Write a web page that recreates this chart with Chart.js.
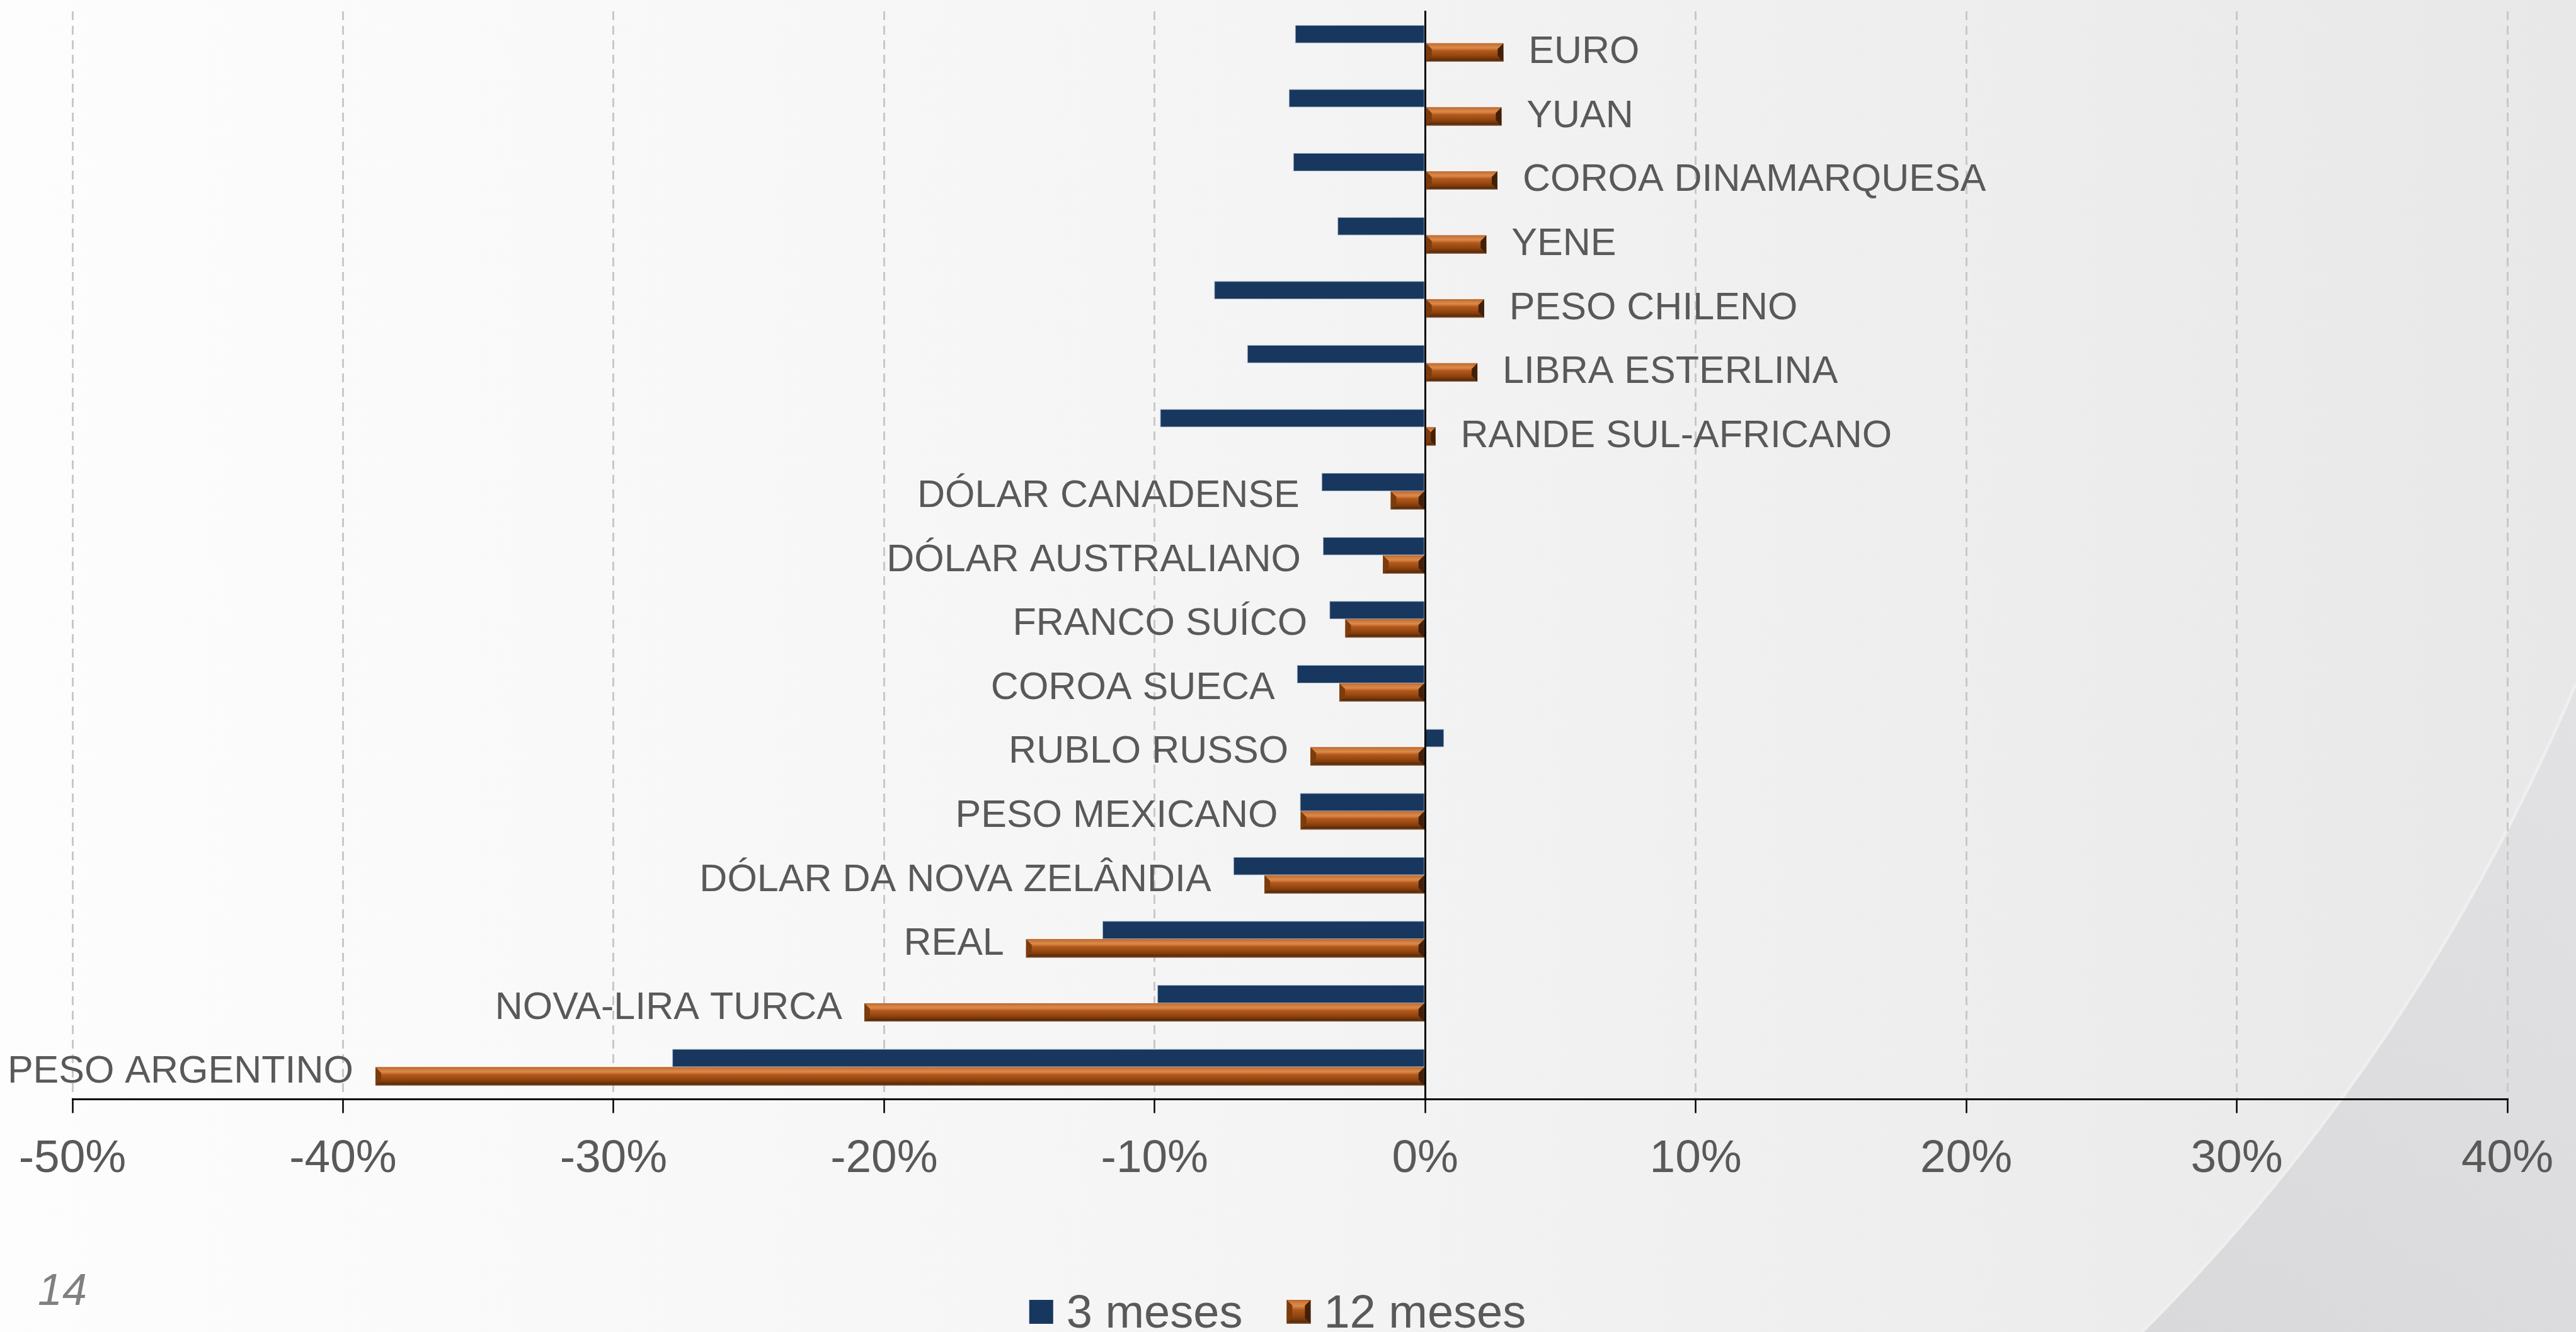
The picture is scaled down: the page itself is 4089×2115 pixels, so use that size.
<!DOCTYPE html>
<html lang="pt">
<head>
<meta charset="utf-8">
<title>Variação cambial frente ao dólar</title>
<script src="https://cdn.jsdelivr.net/npm/chart.js@4.4.1/dist/chart.umd.min.js"></script>
<style>
  html, body { margin: 0; padding: 0; overflow: hidden; background: #f4f4f4; }
  #wrap { position: relative; width: 4089px; height: 2115px; }
</style>
</head>
<body>
<div id="wrap"><canvas id="fxChart"></canvas></div>
<script>
// values (% change)
const currencies = ['EURO', 'YUAN', 'COROA DINAMARQUESA', 'YENE', 'PESO CHILENO', 'LIBRA ESTERLINA',
  'RANDE SUL-AFRICANO', 'DÓLAR CANADENSE', 'DÓLAR AUSTRALIANO', 'FRANCO SUÍCO', 'COROA SUECA',
  'RUBLO RUSSO', 'PESO MEXICANO', 'DÓLAR DA NOVA ZELÂNDIA', 'REAL', 'NOVA-LIRA TURCA', 'PESO ARGENTINO'];
const threeMonths = [-4.81, -5.04, -4.88, -3.24, -7.80, -6.58, -9.80, -3.83, -3.78, -3.54, -4.74,
  0.70, -4.63, -7.09, -11.93, -9.90, -27.83];
const twelveMonths = [2.89, 2.82, 2.67, 2.26, 2.18, 1.93, 0.38, -1.27, -1.56, -2.95, -3.17,
  -4.24, -4.60, -5.94, -14.75, -20.73, -38.80];
const xTicks = [-50, -40, -30, -20, -10, 0, 10, 20, 30, 40];
const seriesNames = ['3 meses', '12 meses'];
const pageNumber = '14';

const NAVY = '#17375E';
const COPPER = '#A34E12';
const TEXT = '#595959';
const FONT = "'Liberation Sans', Arial, sans-serif";

function drawCopperBar(ctx, x0, x1, y0, y1) {
    const w = x1 - x0, h = y1 - y0;
    if (w <= 0 || h <= 0) return;
    const g = ctx.createLinearGradient(0, y0, 0, y1);
    g.addColorStop(0, '#b9652a');
    g.addColorStop(0.1, '#cf7a3a');
    g.addColorStop(0.25, '#da8a4c');
    g.addColorStop(0.42, '#b0561a');
    g.addColorStop(0.62, '#9e490f');
    g.addColorStop(0.8, '#7a3b0e');
    g.addColorStop(0.92, '#552a0b');
    g.addColorStop(1, '#8a5a3a');
    ctx.fillStyle = g;
    ctx.fillRect(x0, y0, w, h);
    const b = Math.min(9, h / 3, w / 2);
    // right bevel
    ctx.beginPath();
    ctx.moveTo(x1, y0); ctx.lineTo(x1, y1); ctx.lineTo(x1 - b, y1 - b); ctx.lineTo(x1 - b, y0 + b);
    ctx.closePath();
    ctx.fillStyle = '#40200a';
    ctx.fill();
    // left bevel
    ctx.beginPath();
    ctx.moveTo(x0, y0); ctx.lineTo(x0 + b, y0 + b); ctx.lineTo(x0 + b, y1 - b); ctx.lineTo(x0, y1);
    ctx.closePath();
    ctx.fillStyle = '#7c3c0c';
    ctx.fill();
}

// slide background with the curled corner and page number
const slideBackground = {
    id: 'slideBackground',
    beforeDraw(chart) {
        const {ctx, width, height} = chart;
        ctx.save();
        const g = ctx.createLinearGradient(0, 0, width, 0);
        g.addColorStop(0, '#fdfdfd');
        g.addColorStop(0.5, '#f4f4f5');
        g.addColorStop(1, '#e8e8e9');
        ctx.fillStyle = g;
        ctx.fillRect(0, 0, width, height);

        ctx.beginPath();
        ctx.moveTo(width, 1085);
        ctx.quadraticCurveTo(3835, 1680, 3400, height);
        ctx.lineTo(width, height);
        ctx.closePath();
        const c = ctx.createLinearGradient(3400, 2115, 4089, 1100);
        c.addColorStop(0, '#d9d9db');
        c.addColorStop(1, '#e2e2e4');
        ctx.fillStyle = c;
        ctx.fill();
        ctx.beginPath();
        ctx.moveTo(width, 1085);
        ctx.quadraticCurveTo(3835, 1680, 3400, height);
        ctx.strokeStyle = '#efeff0';
        ctx.lineWidth = 5;
        ctx.stroke();

        ctx.font = 'italic 70px ' + FONT;
        ctx.fillStyle = '#808080';
        ctx.textAlign = 'left';
        ctx.textBaseline = 'alphabetic';
        ctx.fillText(pageNumber, 60, 2072);
        ctx.restore();
    }
};

// beveled look of the 12-month bars
const copperBevel = {
    id: 'copperBevel',
    afterDatasetDraw(chart, args) {
        if (args.index !== 1) return;
        const ctx = chart.ctx;
        ctx.save();
        args.meta.data.forEach(el => {
            const p = el.getProps(['x', 'y', 'base', 'height'], true);
            drawCopperBar(ctx, Math.min(p.x, p.base), Math.max(p.x, p.base),
                p.y - p.height / 2, p.y + p.height / 2);
        });
        ctx.restore();
    }
};

// currency names next to the bars
const barLabels = {
    id: 'barLabels',
    afterDatasetsDraw(chart) {
        const ctx = chart.ctx;
        const m0 = chart.getDatasetMeta(0).data;
        const m1 = chart.getDatasetMeta(1).data;
        const zero = chart.scales.x.getPixelForValue(0);
        ctx.save();
        ctx.font = '61px ' + FONT;
        ctx.fillStyle = TEXT;
        ctx.textBaseline = 'middle';
        currencies.forEach((name, i) => {
            if (twelveMonths[i] > 0) {
                ctx.textAlign = 'left';
                ctx.fillText(name, Math.max(zero, m0[i].x, m1[i].x) + 40, m1[i].y);
            } else {
                ctx.textAlign = 'right';
                ctx.fillText(name, Math.min(zero, m0[i].x, m1[i].x) - 35, (m0[i].y + m1[i].y) / 2 + 8);
            }
        });
        ctx.restore();
    }
};

// legend row at the bottom
const legendRow = {
    id: 'legendRow',
    afterDraw(chart) {
        const ctx = chart.ctx;
        const box = 38, gap = 21, itemGap = 70;
        ctx.save();
        ctx.font = '74px ' + FONT;
        const widths = seriesNames.map(s => ctx.measureText(s).width);
        const total = widths.reduce((a, w) => a + box + gap + w, 0) + itemGap * (seriesNames.length - 1);
        let x = 2028 - total / 2;
        const boxTop = 2064, baseline = 2108;
        seriesNames.forEach((name, i) => {
            if (i === 0) {
                ctx.fillStyle = NAVY;
                ctx.fillRect(x, boxTop, box, box);
            } else {
                drawCopperBar(ctx, x, x + box, boxTop, boxTop + box);
            }
            ctx.fillStyle = TEXT;
            ctx.textAlign = 'left';
            ctx.textBaseline = 'alphabetic';
            ctx.fillText(name, x + box + gap, baseline);
            x += box + gap + widths[i] + itemGap;
        });
        ctx.restore();
    }
};

const ctx = document.getElementById('fxChart').getContext('2d');
const fxChart = new Chart(ctx, {
    type: 'bar',
    data: {
        labels: currencies,
        datasets: [
            {
                label: seriesNames[0],
                data: threeMonths,
                backgroundColor: NAVY,
                borderColor: '#9fb0c6',
                borderWidth: 1
            },
            {
                label: seriesNames[1],
                data: twelveMonths,
                backgroundColor: COPPER
            }
        ]
    },
    options: {
        indexAxis: 'y',
        responsive: true,
        maintainAspectRatio: false,
        animation: false,
        categoryPercentage: 0.571,
        barPercentage: 1,
        layout: {
            padding: { left: 115, right: 109, top: 18, bottom: 200 }
        },
        plugins: {
            legend: { display: false },
            tooltip: { enabled: false }
        },
        scales: {
            x: {
                min: -50,
                max: 40,
                afterBuildTicks: scale => { scale.ticks = xTicks.map(v => ({ value: v })); },
                afterFit: scale => { scale.paddingLeft = 0; scale.paddingRight = 0; },
                grid: {
                    color: c => (c.tick && c.tick.value === 0) ? 'rgba(0,0,0,0)' : '#c8c8c8',
                    lineWidth: 3,
                    tickColor: '#000',
                    tickWidth: 2.5,
                    tickLength: 22
                },
                border: { display: true, color: '#000', width: 3, dash: [14, 9] },
                ticks: {
                    padding: 30,
                    color: TEXT,
                    font: { family: FONT, size: 73 },
                    callback: v => v + '%'
                }
            },
            y: {
                position: { x: 0 },
                z: 1,
                grid: { display: false },
                border: { display: true, color: '#000', width: 3 },
                ticks: { display: false }
            }
        }
    },
    plugins: [slideBackground, copperBevel, barLabels, legendRow]
});
</script>
</body>
</html>
